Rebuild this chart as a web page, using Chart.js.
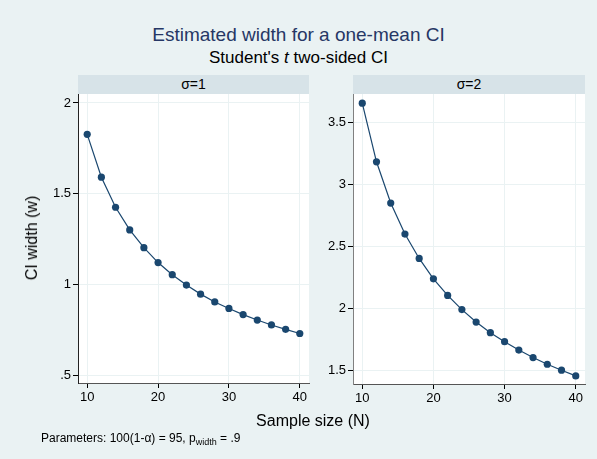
<!DOCTYPE html>
<html><head><meta charset="utf-8">
<script src="https://cdn.jsdelivr.net/npm/chart.js@4"></script>
<style>
body{margin:0;background:#EAF2F3;font-family:"Liberation Sans",Arial,sans-serif;}
#wrap{position:relative;width:597px;height:459px;overflow:hidden;background:#EAF2F3;}
.t{position:absolute;white-space:nowrap;line-height:1;}
canvas{position:absolute;top:0;}
.hdr{position:absolute;background:#D7E3E8;text-align:center;font-size:14px;color:#000;}
</style></head><body>
<div id="wrap">
<div class="t" id="title" style="left:0;width:597px;text-align:center;top:25px;font-size:19px;color:#263765;"></div>
<div class="t" id="subtitle" style="left:0;width:597px;text-align:center;top:49px;font-size:17px;color:#000;"></div>
<div class="hdr" id="h1" style="left:78px;top:75px;width:231px;height:19px;line-height:19px;"></div>
<div class="hdr" id="h2" style="left:353px;top:75px;width:232px;height:19px;line-height:19px;"></div>
<canvas id="c1" width="320" height="459" style="left:0"></canvas>
<canvas id="c2" width="277" height="459" style="left:320px"></canvas>
<div class="t" id="ytitle" style="left:32px;top:238px;font-size:16px;color:#000;transform:translate(-50%,-50%) rotate(-90deg);"></div>
<div class="t" id="xtitle" style="left:313px;top:421px;font-size:16px;color:#000;transform:translate(-50%,-50%);"></div>
<div class="t" style="left:41px;top:432px;font-size:12px;color:#000;">Parameters: 100(1-α) = 95, p<sub style="font-size:9px;vertical-align:-3px;line-height:0">width</sub> = .9</div>
</div>
<script>
// ---- data ----
const sampleSize = [10,12,14,16,18,20,22,24,26,28,30,32,34,36,38,40];
const widthSigma1 = [1.827,1.591,1.425,1.300,1.202,1.120,1.053,0.996,0.946,0.903,0.867,0.833,0.803,0.776,0.752,0.729];
const widthSigma2 = [3.654,3.182,2.850,2.600,2.404,2.240,2.106,1.992,1.892,1.806,1.734,1.666,1.606,1.552,1.504,1.458];
const panelLabels = ['σ=1','σ=2'];
const xTicks = [10,20,30,40];
const yTicks1 = [0.5,1,1.5,2];
const yLabels1 = ['.5','1','1.5','2'];
const yTicks2 = [1.5,2,2.5,3,3.5];
const yLabels2 = ['1.5','2','2.5','3','3.5'];
const titleText = 'Estimated width for a one-mean CI';
const xTitle = 'Sample size (N)';
const yTitle = 'CI width (w)';

document.getElementById('title').textContent = titleText;
document.getElementById('subtitle').innerHTML = "Student's <i>t</i> two-sided CI";
document.getElementById('h1').textContent = panelLabels[0];
document.getElementById('h2').textContent = panelLabels[1];
document.getElementById('xtitle').textContent = xTitle;
document.getElementById('ytitle').textContent = yTitle;

const FONT = '"Liberation Sans", Arial, sans-serif';
const NAVY = '#1A476F';

const whiteArea = {
  id:'whiteArea',
  beforeDraw(chart){
    const {ctx, chartArea:a} = chart;
    ctx.save(); ctx.fillStyle='#fff';
    ctx.fillRect(a.left, a.top, a.right-a.left, a.bottom-a.top);
    ctx.restore();
  }
};

function panel(id, values, yMin, yMax, yTicks, yLabels, yWidth, xHeight, padRight, yAxisColor){
  new Chart(document.getElementById(id), {
    type:'line',
    data:{ datasets:[{
      data: sampleSize.map((n,i)=>({x:n, y:values[i]})),
      borderColor:NAVY, backgroundColor:NAVY, borderWidth:1.2,
      pointRadius:3.6, pointBackgroundColor:NAVY, pointBorderWidth:0,
      pointHoverRadius:3.6, tension:0, clip:false
    }]},
    options:{
      responsive:false, animation:false, devicePixelRatio:1,
      layout:{padding:{top:94, right:padRight, left:0, bottom:0}},
      plugins:{legend:{display:false}, tooltip:{enabled:false}},
      events:[],
      scales:{
        x:{
          type:'linear', min:8.7, max:41.3,
          afterBuildTicks:s=>{ s.ticks = xTicks.map(v=>({value:v})); },
          afterFit:s=>{ s.height = xHeight; },
          ticks:{ callback:v=>String(v), font:{family:FONT,size:13}, color:'#000', padding:2, maxRotation:0, autoSkip:false },
          grid:{ color:'#EAF2F3', lineWidth:1, tickColor:'#000', tickLength:5, drawTicks:true },
          border:{ color:'#555', width:1 }
        },
        y:{
          type:'linear', min:yMin, max:yMax,
          afterBuildTicks:s=>{ s.ticks = yTicks.map(v=>({value:v})); },
          afterFit:s=>{ s.width = yWidth; },
          ticks:{ callback:v=>{ const i = yTicks.indexOf(v); return i>=0 ? yLabels[i] : ''; }, font:{family:FONT,size:13}, color:'#000', padding:2, autoSkip:false },
          grid:{ color:'#EAF2F3', lineWidth:1, tickColor:'#000', tickLength:5, drawTicks:true },
          border:{ color:yAxisColor, width:1 }
        }
      }
    },
    plugins:[whiteArea]
  });
}

panel('c1', widthSigma1, 0.4559, 2.0496, yTicks1, yLabels1, 78, 76, 11, '#222');
panel('c2', widthSigma2, 1.393, 3.728, yTicks2, yLabels2, 33, 75, 12, '#808080');
</script>
</body></html>
